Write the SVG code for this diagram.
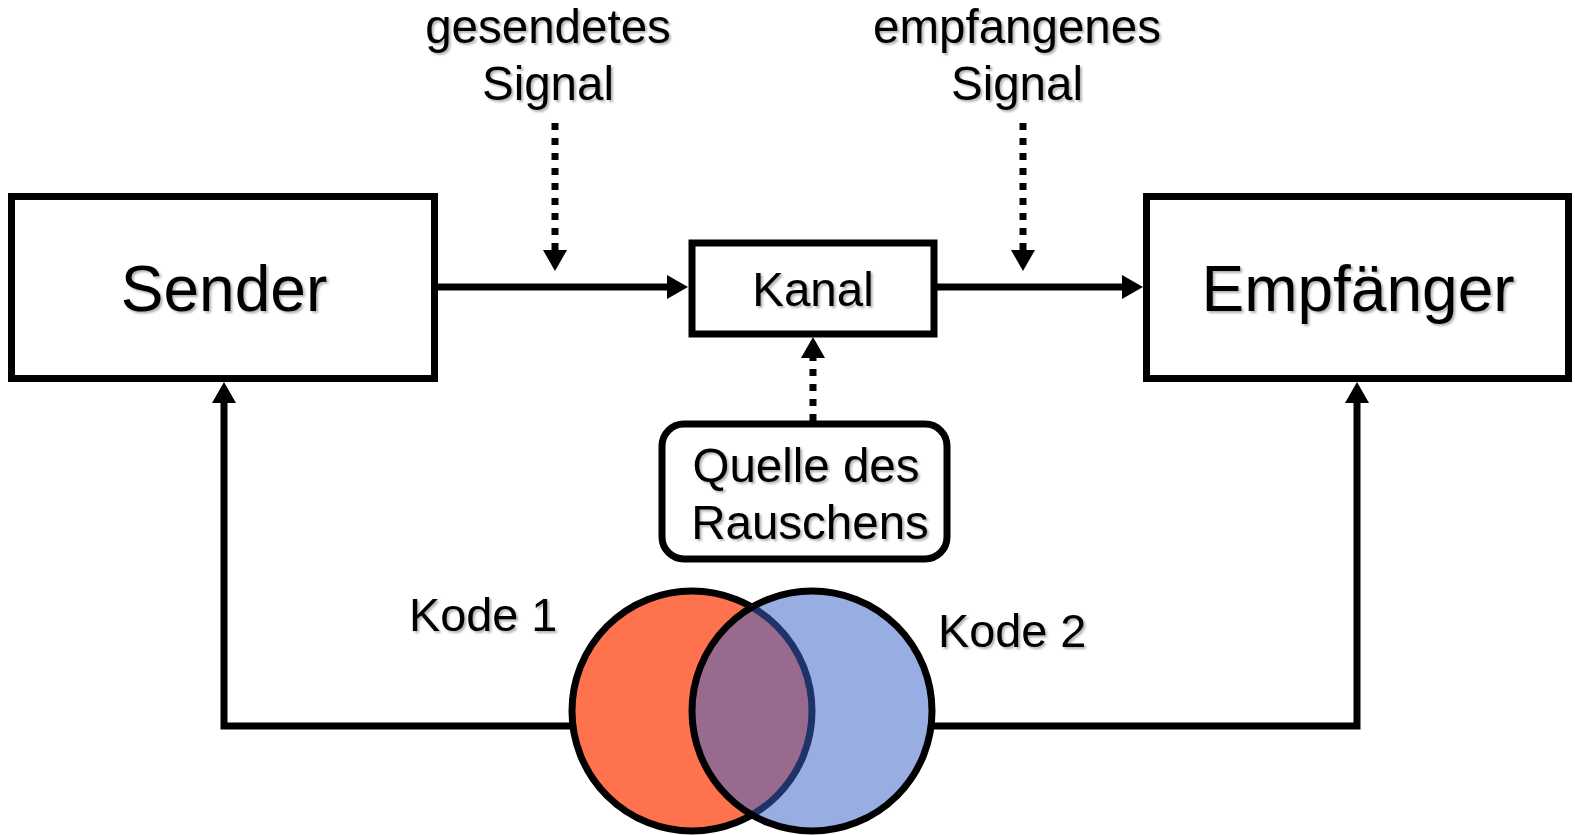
<svg xmlns="http://www.w3.org/2000/svg" width="1575" height="835" viewBox="0 0 1575 835">
  <style>
    .box { fill: #fff; stroke: #000; stroke-width: 7; }
    .t { font-family: "Liberation Sans", Arial, sans-serif; fill: #000; text-anchor: middle; filter: url(#shadow); }
    .big { font-size: 64px; }
    .mid { font-size: 47.5px; }
    .kode { font-size: 46.8px; text-anchor: start; }
    .solid { fill: none; stroke: #000; stroke-width: 7; stroke-linejoin: miter; }
    .dot { fill: none; stroke: #000; stroke-width: 7; stroke-dasharray: 7 8; }
  </style>
  <defs>
    <filter id="shadow" x="-10%" y="-20%" width="130%" height="150%">
      <feDropShadow dx="2" dy="2" stdDeviation="1" flood-color="#000" flood-opacity="0.3"/>
    </filter>
    <marker id="arrow" markerUnits="userSpaceOnUse" markerWidth="22" markerHeight="24" refX="0" refY="12" orient="auto" overflow="visible">
      <path d="M0,0 L21,12 L0,24 Z" fill="#000"/>
    </marker>
  </defs>
  <rect width="1575" height="835" fill="#fff"/>

  <g id="connectors">
    <path class="solid" d="M435,287 H667" marker-end="url(#arrow)"/>
    <path class="solid" d="M937,287 H1122" marker-end="url(#arrow)"/>
    <path class="dot" d="M555,123 V250" marker-end="url(#arrow)"/>
    <path class="dot" d="M1023,123 V250" marker-end="url(#arrow)"/>
    <path class="dot" d="M813,421 V358" marker-end="url(#arrow)"/>
    <path class="solid" d="M570,726 H224 V403" marker-end="url(#arrow)"/>
    <path class="solid" d="M934,726 H1357 V403" marker-end="url(#arrow)"/>
  </g>

  <g id="sender">
    <rect class="box" x="11.5" y="196.5" width="423" height="182"/>
    <text class="t big" x="224" y="311">Sender</text>
  </g>

  <g id="kanal">
    <rect class="box" x="692" y="243" width="242" height="91"/>
    <text class="t mid" x="813" y="306">Kanal</text>
  </g>

  <g id="empfaenger">
    <rect class="box" x="1146.5" y="196.5" width="422" height="182"/>
    <text class="t big" x="1358" y="311">Empfänger</text>
  </g>

  <g id="gesendetes-signal">
    <text class="t mid" x="548" y="43">gesendetes</text>
    <text class="t mid" x="548" y="100">Signal</text>
  </g>

  <g id="empfangenes-signal">
    <text class="t mid" x="1017" y="43">empfangenes</text>
    <text class="t mid" x="1017" y="100">Signal</text>
  </g>

  <g id="rauschquelle">
    <rect class="box" x="662" y="424" width="285" height="135" rx="22" ry="22"/>
    <text class="t mid" x="806" y="482">Quelle des</text>
    <text class="t mid" x="810" y="539">Rauschens</text>
  </g>

  <g id="kode">
    <circle cx="692" cy="711" r="120" fill="#FE724E" stroke="#000" stroke-width="7"/>
    <circle cx="812" cy="711" r="120" fill="#3A64CA" fill-opacity="0.52" stroke="#000" stroke-width="7"/>
    <text class="t kode" x="409" y="631">Kode 1</text>
    <text class="t kode" x="938" y="647">Kode 2</text>
  </g>
</svg>
